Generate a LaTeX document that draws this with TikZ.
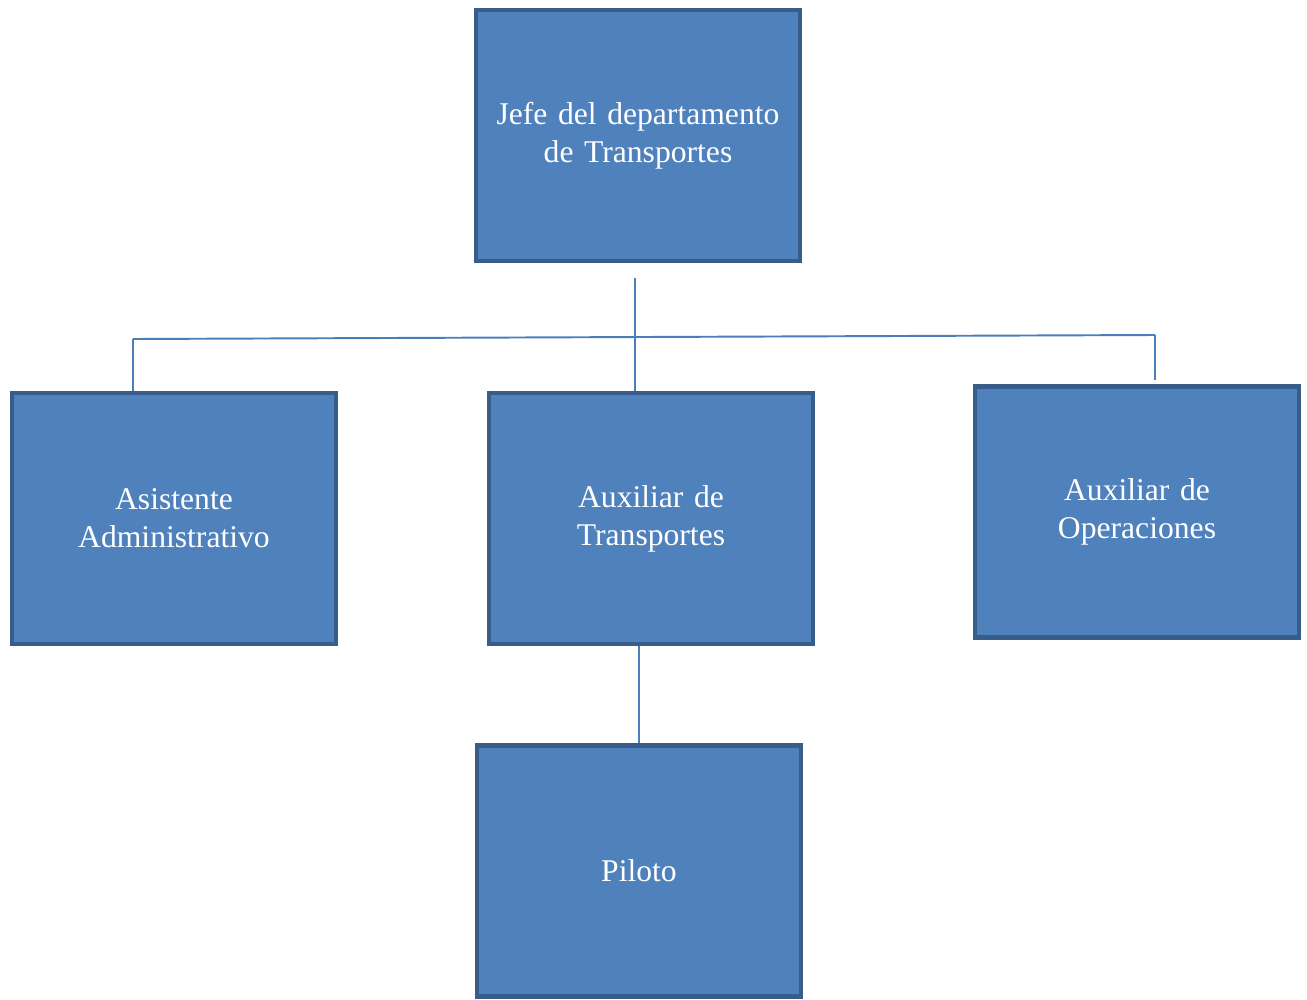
\documentclass[tikz,border=0pt]{standalone}
\usepackage{fontspec}
\setmainfont{Liberation Serif}
\usetikzlibrary{positioning}
\definecolor{boxfill}{HTML}{4F81BD}
\definecolor{boxline}{HTML}{385D8A}
\definecolor{linkblue}{HTML}{4A7EBB}
\tikzstyle{puesto} = [text centered, text width=6.2cm, minimum width=6.48cm, minimum height=5.02cm, draw=boxline, line width=2.8pt, fill=boxfill, text=white, font=\fontsize{18}{21.6}\selectfont]
\tikzstyle{enlace} = [draw=linkblue, line width=1.1pt]

\begin{document}
\begin{tikzpicture}[node distance=7.66cm, auto]
    \useasboundingbox (0,0) rectangle (26.14,-20);
    \node [puesto] (jefe) at (12.76,-2.71) {Jefe del departamento\\de Transportes};
    \node [puesto, below of=jefe, xshift=0.26cm] (aux) {Auxiliar de\\Transportes};
    \node [puesto, left of=aux, node distance=9.54cm] (asis) {Asistente\\Administrativo};
    \node [puesto, right of=aux, node distance=9.72cm, yshift=0.13cm] (oper) {Auxiliar de\\Operaciones};
    \node [puesto, below of=aux, node distance=7.05cm, xshift=-0.24cm] (piloto) {Piloto};
    %\node [puesto, below of=asis] (otro) {};

    \coordinate (baja) at (12.70,-5.56);
    \coordinate (hIzq) at (2.66,-6.78);
    \coordinate (hDer) at (23.10,-6.70);

    \draw [enlace] (baja) to (baja |- aux.north);
    \draw [enlace] (hIzq) to (hIzq |- asis.north);
    \draw [enlace] (hIzq) to (hDer);
    \draw [enlace] (hDer) to ([yshift=0.08cm]hDer |- oper.north);
    \draw [enlace] (piloto.north |- aux.south) to (piloto.north);
  \end{tikzpicture}
\end{document}
